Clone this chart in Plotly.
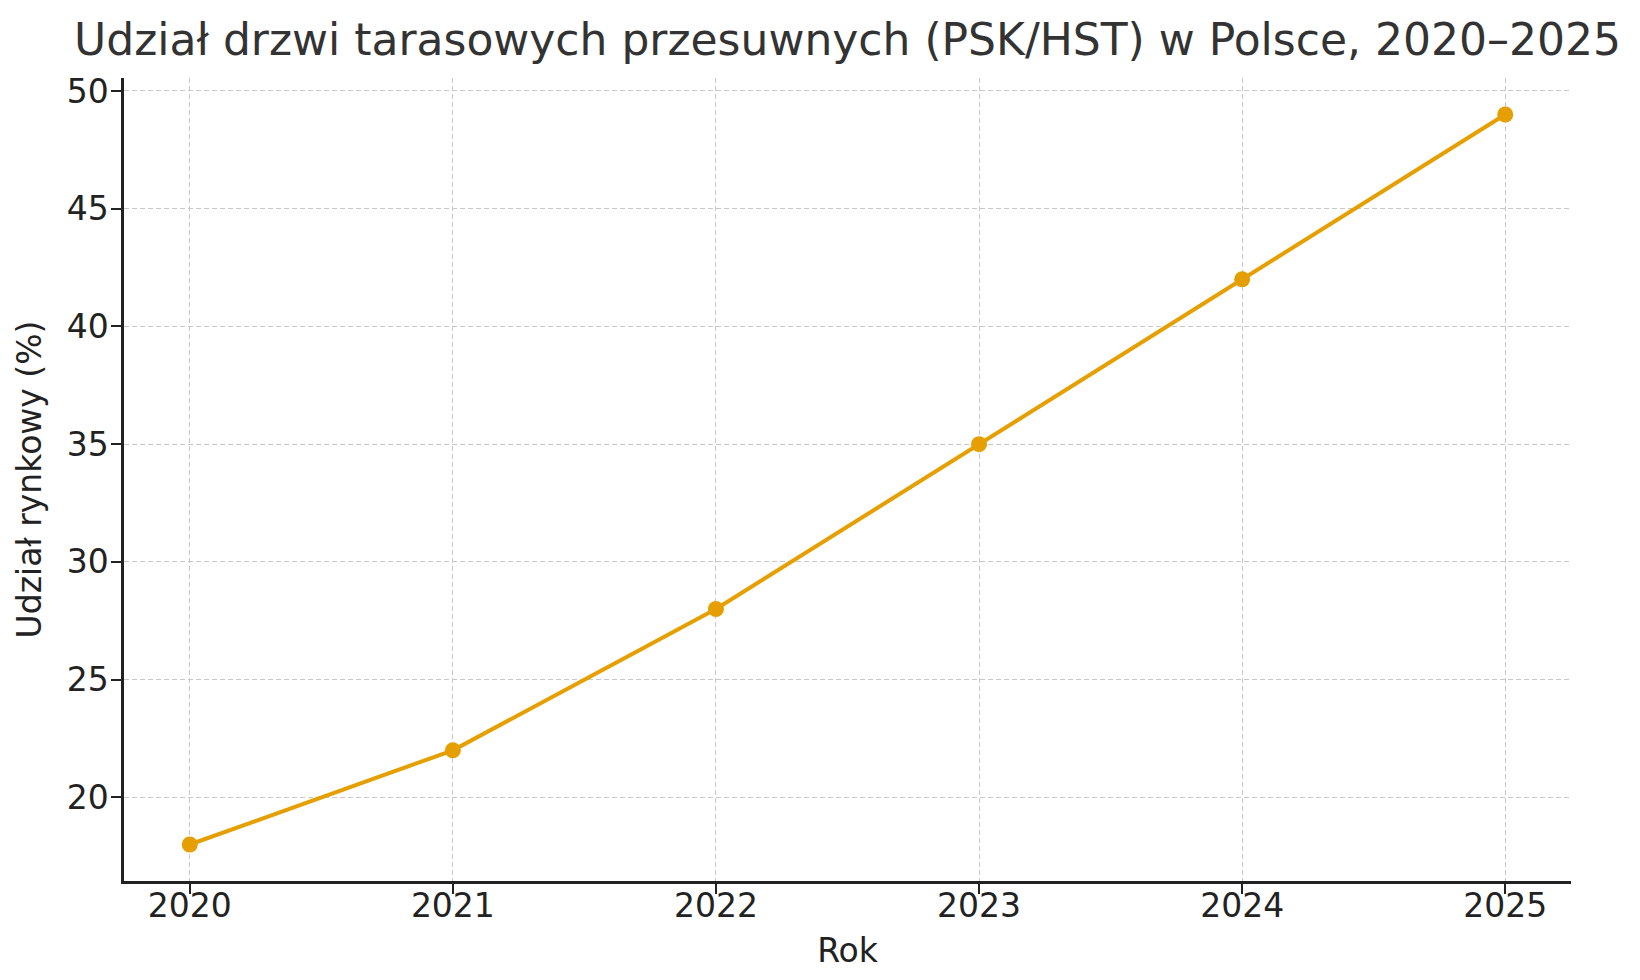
import plotly.graph_objects as go

# Dane: udział rynkowy drzwi PSK/HST w Polsce
years = [2020, 2021, 2022, 2023, 2024, 2025]
share = [18, 22, 28, 35, 42, 49]
y_ticks = [20, 25, 30, 35, 40, 45, 50]

FONT = "DejaVu Sans"
ORANGE = "#E69F00"
INK = "#222222"
GRID = "#c8c8c8"

fig = go.Figure()
fig.add_trace(go.Scatter(
    x=years,
    y=share,
    mode="lines+markers",
    line=dict(color=ORANGE, width=4),
    marker=dict(color=ORANGE, size=16),
    showlegend=False,
))

fig.update_layout(
    width=1640,
    height=980,
    margin=dict(l=116, r=77, t=70, b=107),
    paper_bgcolor="white",
    plot_bgcolor="white",
    font=dict(family=FONT, size=33, color=INK),
    title=dict(
        text="Udział drzwi tarasowych przesuwnych (PSK/HST) w Polsce, 2020–2025",
        font=dict(family=FONT, size=44, color="#333333"),
        xref="paper", x=0.5, xanchor="center",
        yref="container", y=0.968, yanchor="middle",
    ),
)

fig.update_xaxes(
    range=[2019.75, 2025.25],
    tickvals=years,
    ticks="outside", ticklen=10, tickwidth=2, tickcolor=INK,
    ticklabelstandoff=-16,
    showline=True, linecolor=INK, linewidth=2.5,
    showgrid=True, gridcolor=GRID, gridwidth=1, griddash="5px,3px",
    zeroline=False,
    title=dict(text="Rok", font=dict(size=33, color=INK), standoff=15),
)
fig.update_yaxes(
    range=[16.45, 50.55],
    tickvals=y_ticks,
    ticks="outside", ticklen=10, tickwidth=2, tickcolor=INK,
    ticklabelstandoff=-4,
    showline=True, linecolor=INK, linewidth=2.5,
    showgrid=True, gridcolor=GRID, gridwidth=1, griddash="5px,3px",
    zeroline=False,
    title=dict(text="Udział rynkowy (%)", font=dict(size=33, color=INK), standoff=16),
)

fig.write_html("out.html")
